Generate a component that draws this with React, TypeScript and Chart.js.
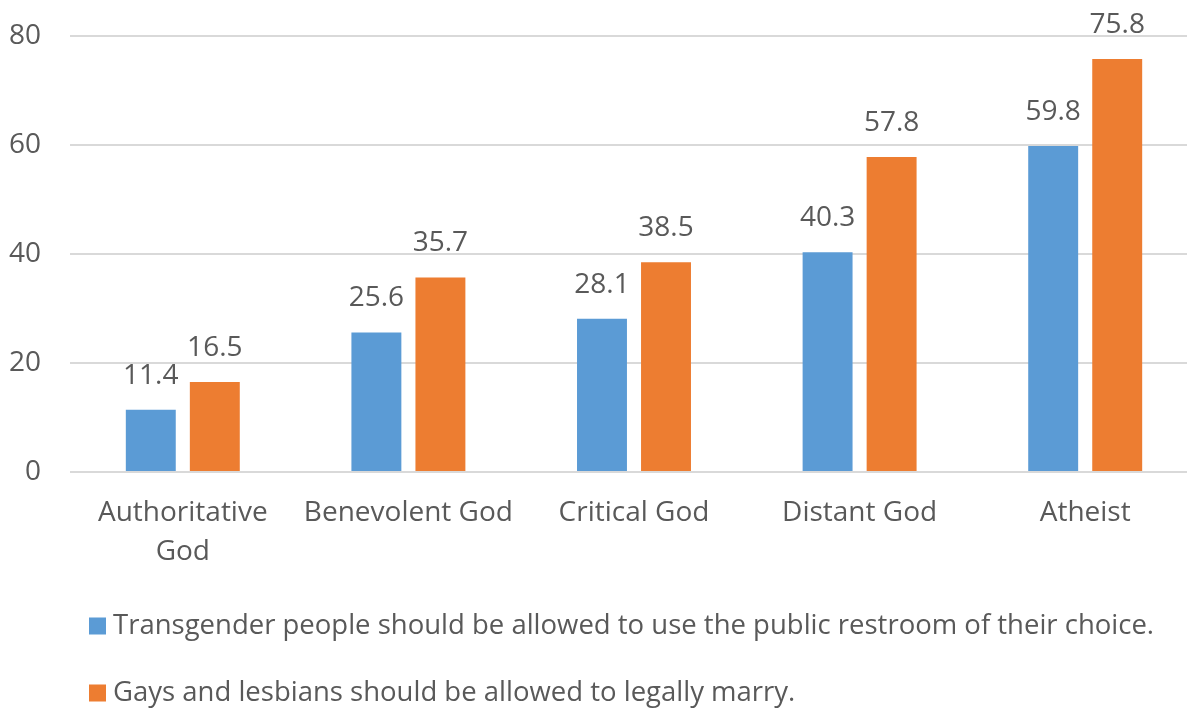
import React, { useEffect, useRef } from "react";
import { Chart, registerables } from "chart.js";

Chart.register(...registerables);

const categories: (string | string[])[] = [
  ["Authoritative", "God"],
  "Benevolent God",
  "Critical God",
  "Distant God",
  "Atheist",
];
const transgenderValues = [11.4, 25.6, 28.1, 40.3, 59.8];
const marriageValues = [16.5, 35.7, 38.5, 57.8, 75.8];
const seriesLabels = [
  "Transgender people should be allowed to use the public restroom of their choice.",
  "Gays and lesbians should be allowed to legally marry.",
];
const seriesColors = ["#5B9BD5", "#ED7D31"];
const yTicks = [0, 20, 40, 60, 80];

const FONT = "'Open Sans', sans-serif";
const TEXT = "#595959";

const valueLabels = {
  id: "valueLabels",
  afterDatasetsDraw(chart: any) {
    const ctx = chart.ctx;
    ctx.save();
    ctx.font = `28px ${FONT}`;
    ctx.fillStyle = TEXT;
    ctx.textAlign = "center";
    ctx.textBaseline = "middle";
    chart.data.datasets.forEach((ds: any, i: number) => {
      const meta = chart.getDatasetMeta(i);
      meta.data.forEach((bar: any, j: number) => {
        ctx.fillText(String(ds.data[j]), bar.x, bar.y - 34);
      });
    });
    ctx.restore();
  },
};

const customLegend = {
  id: "customLegend",
  afterDraw(chart: any) {
    const ctx = chart.ctx;
    ctx.save();
    ctx.font = `27.5px ${FONT}`;
    ctx.textBaseline = "middle";
    ctx.textAlign = "left";
    const rows = [626, 693];
    chart.data.datasets.forEach((ds: any, i: number) => {
      const cy = rows[i];
      ctx.fillStyle = ds.backgroundColor;
      ctx.fillRect(89, cy - 8.5, 17, 17);
      ctx.fillStyle = TEXT;
      ctx.fillText(ds.label, 113, cy);
    });
    ctx.restore();
  },
};

export default function App() {
  const ref = useRef<HTMLCanvasElement | null>(null);
  useEffect(() => {
    if (!ref.current) return;
    const chart = new Chart(ref.current, {
      type: "bar",
      data: {
        labels: categories as any,
        datasets: [
          {
            label: seriesLabels[0],
            data: transgenderValues,
            backgroundColor: seriesColors[0],
            categoryPercentage: 0.5676,
            barPercentage: 0.78,
          },
          {
            label: seriesLabels[1],
            data: marriageValues,
            backgroundColor: seriesColors[1],
            categoryPercentage: 0.5676,
            barPercentage: 0.78,
          },
        ],
      },
      options: {
        responsive: false,
        animation: false,
        devicePixelRatio: 1,
        layout: { padding: { top: 36, bottom: 141, left: 0, right: 0 } },
        plugins: {
          legend: { display: false },
          tooltip: { enabled: false },
        },
        scales: {
          x: {
            grid: { display: false, drawTicks: false },
            border: { display: false },
            ticks: {
              color: TEXT,
              font: { family: FONT, size: 28, lineHeight: 1.4 },
              padding: 21,
              maxRotation: 0,
              autoSkip: false,
            },
            afterFit: (s: any) => {
              s.height = 100;
            },
          },
          y: {
            min: 0,
            max: 80,
            afterBuildTicks: (s: any) => {
              s.ticks = yTicks.map((v) => ({ value: v }));
            },
            grid: { color: "#D9D9D9", lineWidth: 2, drawTicks: false },
            border: { display: false },
            ticks: {
              color: TEXT,
              font: { family: FONT, size: 28 },
              padding: 29,
            },
            afterFit: (s: any) => {
              s.width = 70;
              s.paddingTop = 0;
              s.paddingBottom = 0;
            },
          },
        },
      },
      plugins: [valueLabels, customLegend],
    });
    return () => chart.destroy();
  }, []);
  return (
    <div
      style={{
        position: "fixed",
        left: 0,
        top: 0,
        width: 1187,
        height: 713,
        overflow: "hidden",
        background: "#fff",
      }}
    >
      <canvas ref={ref} width={1198} height={713} style={{ display: "block" }} />
    </div>
  );
}
